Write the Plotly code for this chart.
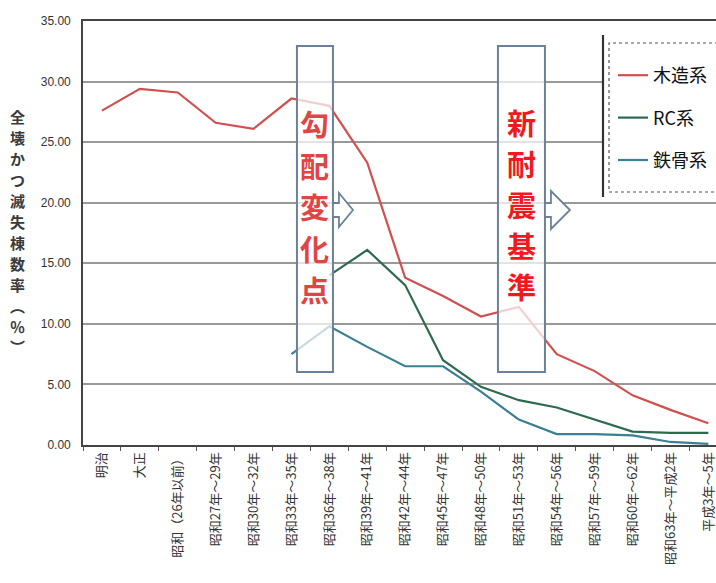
import plotly.graph_objects as go

categories = ["明治", "大正", "昭和（26年以前）", "昭和27年～29年", "昭和30年～32年",
              "昭和33年～35年", "昭和36年～38年", "昭和39年～41年", "昭和42年～44年",
              "昭和45年～47年", "昭和48年～50年", "昭和51年～53年", "昭和54年～56年",
              "昭和57年～59年", "昭和60年～62年", "昭和63年～平成2年", "平成3年～5年"]
wood = [27.6, 29.4, 29.1, 26.6, 26.1, 28.6, 28.0, 23.3, 13.8, 12.3, 10.6, 11.4,
        7.5, 6.1, 4.1, 2.9, 1.8]
rc = [None, None, None, None, None, None, 14.0, 16.1, 13.2, 7.0, 4.8, 3.7,
      3.1, 2.1, 1.1, 1.0, 1.0]
steel = [None, None, None, None, None, 7.5, 9.8, 8.1, 6.5, 6.5, 4.4, 2.1,
         0.9, 0.9, 0.8, 0.25, 0.1]
series_names = ["木造系", "RC系", "鉄骨系"]
series_colors = ["#d0504f", "#2e6b4e", "#3a7f93"]
y_title = "全壊かつ滅失棟数率︵％︶"
note1 = "勾配変化点"
note2 = "新耐震基準"

W, H = 716, 583
ML, MT, MB = 83, 21, 138
PW, PH = W - ML, H - MT - MB
STEP = 37.9
X0PX = 102


def dx(px):
    return (px - X0PX) / STEP


def dy(py):
    return (445 - py) * 35 / PH


def pxp(px):
    return (px - ML) / PW


def pyp(py):
    return (445 - py) / PH


fig = go.Figure()
for name, vals, col in zip(series_names, [wood, rc, steel], series_colors):
    fig.add_trace(go.Scatter(x=categories, y=vals, mode="lines", name=name,
                             legendgroup=name,
                             line=dict(color=col, width=2.2)))

shapes = []
# legend background and frames
shapes.append(dict(type="rect", xref="paper", yref="paper",
                   x0=pxp(603), x1=pxp(760), y0=pyp(197), y1=pyp(35),
                   fillcolor="white", line=dict(width=0), layer="above"))
shapes.append(dict(type="line", xref="paper", yref="paper",
                   x0=pxp(603), x1=pxp(603), y0=pyp(197), y1=pyp(35),
                   line=dict(color="#333333", width=2.2), layer="above"))
shapes.append(dict(type="rect", xref="paper", yref="paper",
                   x0=pxp(609), x1=pxp(760), y0=pyp(192), y1=pyp(43),
                   fillcolor="rgba(0,0,0,0)",
                   line=dict(color="#555555", width=1.2, dash="dot"), layer="above"))

# annotation boxes
box_col = "#6c8199"
for x0p, x1p in [(297, 333), (498, 545)]:
    shapes.append(dict(type="rect", xref="x", yref="y",
                       x0=dx(x0p), x1=dx(x1p), y0=dy(372), y1=dy(46),
                       fillcolor="rgba(255,255,255,0.72)",
                       line=dict(color=box_col, width=2), layer="above"))


def arrow(bx, sx, tx, sy0, sy1, hy0, hy1, cy):
    pts = [(bx, sy0), (sx, sy0), (sx, hy0), (tx, cy), (sx, hy1), (sx, sy1), (bx, sy1)]
    d = "M " + " L ".join(f"{dx(a):.4f},{dy(b):.4f}" for a, b in pts) + " Z"
    return dict(type="path", xref="x", yref="y", path=d,
                fillcolor="white", line=dict(color=box_col, width=1.8), layer="above")


shapes.append(arrow(333, 339, 353, 203, 217, 193, 227, 210))
shapes.append(arrow(545, 551, 570, 203, 217, 191, 229, 210))

annotations = []
for i, ch in enumerate(note1):
    annotations.append(dict(xref="x", yref="y", x=dx(315), y=dy(123 + 41.5 * i),
                            text=ch, showarrow=False, xanchor="center", yanchor="middle",
                            font=dict(family="Noto Sans CJK JP", size=29, color="#e04444",
                                      weight="bold")))
for i, ch in enumerate(note2):
    annotations.append(dict(xref="x", yref="y", x=dx(522), y=dy(122 + 41 * i),
                            text=ch, showarrow=False, xanchor="center", yanchor="middle",
                            font=dict(family="Noto Sans CJK JP", size=29, color="#f0191e",
                                      weight="bold")))
for i, ch in enumerate(y_title):
    annotations.append(dict(xref="paper", yref="paper", x=pxp(17), y=pyp(117 + 20.9 * i),
                            text=ch, showarrow=False, xanchor="center", yanchor="middle",
                            font=dict(family="Noto Sans CJK JP", size=15, color="#3a3a3a",
                                      weight="bold")))

fig.update_layout(
    width=W, height=H,
    margin=dict(l=ML, r=0, t=MT, b=MB, autoexpand=False),
    paper_bgcolor="white", plot_bgcolor="white",
    showlegend=True,
    legend=dict(x=pxp(613), y=pyp(57), xanchor="left", yanchor="top",
                bgcolor="rgba(0,0,0,0)", borderwidth=0,
                tracegroupgap=16,
                font=dict(family="Noto Sans CJK JP", size=18, color="#111111")),
    shapes=shapes, annotations=annotations,
)
fig.update_xaxes(type="category", range=[-0.5, -0.5 + PW / STEP],
                 showline=True, linecolor="#444444", linewidth=2.2, mirror=True,
                 ticks="outside", tickson="boundaries", ticklen=4, tickcolor="#555555",
                 tickangle=-90, showgrid=False, automargin=False,
                 tickfont=dict(family="Noto Sans CJK JP", size=13, color="#333333"))
fig.update_yaxes(range=[0, 35], dtick=5, tickformat=".2f",
                 showline=True, linecolor="#444444", linewidth=1.6, mirror=True,
                 showgrid=True, gridcolor="#999999", gridwidth=1.6,
                 ticks="", ticklabelstandoff=8, automargin=False, zeroline=False,
                 tickfont=dict(family="Liberation Sans", size=12, color="#333333"))

fig.write_html("out.html")
